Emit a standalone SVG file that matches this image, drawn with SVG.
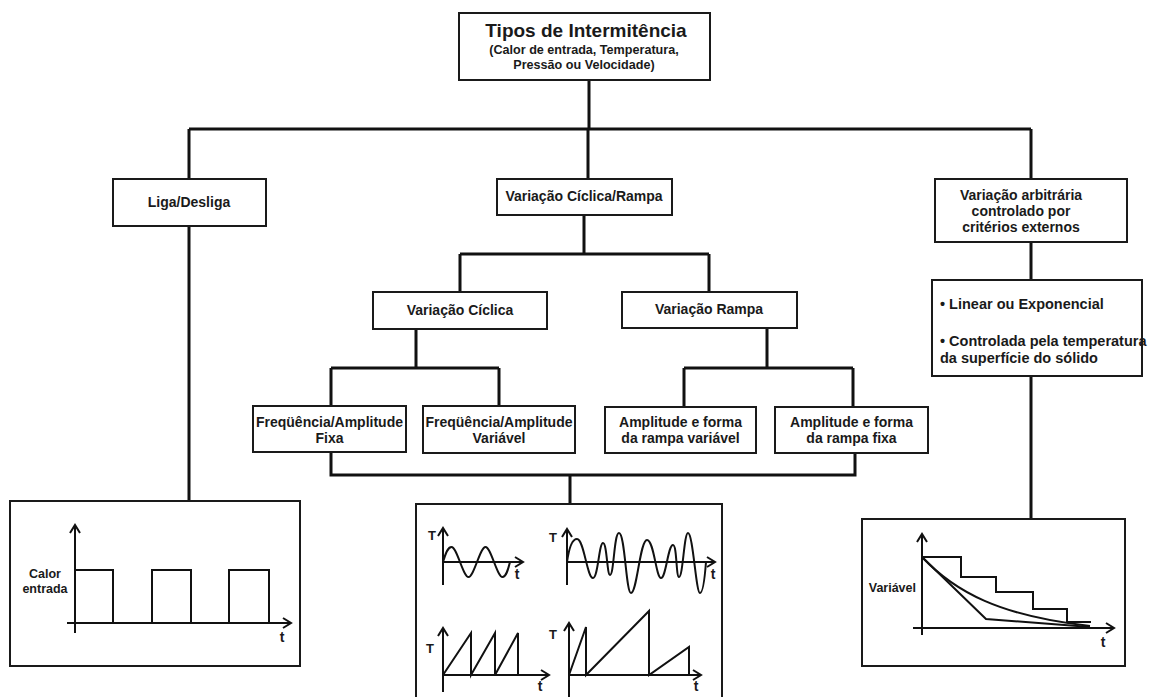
<svg xmlns="http://www.w3.org/2000/svg" width="1154" height="697" viewBox="0 0 1154 697">
<style>
  .box { fill: #fff; stroke: #1a1a1a; stroke-width: 2; }
  .conn { fill: none; stroke: #111; stroke-width: 3; }
  .t { font-family: "Liberation Sans", Arial, sans-serif; font-weight: bold; fill: #1a1a1a; }
  .c { text-anchor: middle; }
  .ax { fill: none; stroke: #111; stroke-width: 2; marker-end: url(#arr); }
  .cv { fill: none; stroke: #111; stroke-width: 2; stroke-linejoin: miter; }
</style>
<defs>
  <marker id="arr" markerUnits="userSpaceOnUse" markerWidth="14" markerHeight="14" refX="10" refY="6" orient="auto">
    <path d="M2,1 L10,6 L2,11" fill="none" stroke="#111" stroke-width="2"/>
  </marker>
</defs>
<rect width="1154" height="697" fill="#fff"/>

<g id="connectors">
  <path class="conn" d="M589,80 V129 M189,129 H1031 M189,129 V179 M588,129 V179 M1031,129 V179"/>
  <path class="conn" d="M189,226 V501"/>
  <path class="conn" d="M584,215 V254 M460,254 H709 M460,254 V292 M709,254 V292"/>
  <path class="conn" d="M416,329 V368 M331,368 H499 M331,368 V406 M499,368 V406"/>
  <path class="conn" d="M767,328 V368 M684,368 H853 M684,368 V407 M853,368 V407"/>
  <path class="conn" d="M331,452 V475 H855 V453 M570,475 V504"/>
  <path class="conn" d="M1031,242 V280 M1031,376 V519"/>
</g>

<g id="title">
  <rect class="box" x="459" y="13" width="251" height="67"/>
  <text class="t c" x="586" y="37" font-size="19">Tipos de Intermitência</text>
  <text class="t c" x="584" y="54" font-size="12.6">(Calor de entrada, Temperatura,</text>
  <text class="t c" x="584" y="69" font-size="12.6">Pressão ou Velocidade)</text>
</g>

<g id="liga">
  <rect class="box" x="113" y="179" width="153" height="47"/>
  <text class="t c" x="189" y="207" font-size="14">Liga/Desliga</text>
</g>

<g id="ciclica-rampa">
  <rect class="box" x="497" y="179" width="175" height="36"/>
  <text class="t c" x="584" y="201" font-size="14">Variação Cíclica/Rampa</text>
</g>

<g id="arbitraria">
  <rect class="box" x="935" y="179" width="192" height="63"/>
  <text class="t c" x="1021" y="200" font-size="14">Variação arbitrária</text>
  <text class="t c" x="1021" y="216" font-size="14">controlado por</text>
  <text class="t c" x="1021" y="232" font-size="14">critérios externos</text>
</g>

<g id="ciclica">
  <rect class="box" x="373" y="292" width="174" height="37"/>
  <text class="t c" x="460" y="315" font-size="14">Variação Cíclica</text>
</g>

<g id="rampa">
  <rect class="box" x="622" y="292" width="175" height="36"/>
  <text class="t c" x="709" y="314" font-size="14">Variação Rampa</text>
</g>

<g id="freq-fixa">
  <rect class="box" x="253" y="406" width="153" height="46"/>
  <text class="t c" x="329.5" y="427" font-size="14">Freqüência/Amplitude</text>
  <text class="t c" x="329.5" y="443" font-size="14">Fixa</text>
</g>

<g id="freq-variavel">
  <rect class="box" x="423" y="406" width="152" height="47"/>
  <text class="t c" x="499" y="427" font-size="14">Freqüência/Amplitude</text>
  <text class="t c" x="499" y="443" font-size="14">Variável</text>
</g>

<g id="amp-variavel">
  <rect class="box" x="605" y="407" width="151" height="46"/>
  <text class="t c" x="680.5" y="427" font-size="14">Amplitude e forma</text>
  <text class="t c" x="680.5" y="443" font-size="14">da rampa variável</text>
</g>

<g id="amp-fixa">
  <rect class="box" x="775" y="407" width="153" height="46"/>
  <text class="t c" x="851.5" y="427" font-size="14">Amplitude e forma</text>
  <text class="t c" x="851.5" y="443" font-size="14">da rampa fixa</text>
</g>

<g id="criterios">
  <rect class="box" x="932" y="280" width="210" height="96"/>
  <text class="t" x="940" y="309" font-size="14.5">• Linear ou Exponencial</text>
  <text class="t" x="940" y="346" font-size="14.5">• Controlada pela temperatura</text>
  <text class="t" x="940" y="363" font-size="14.5">da superfície do sólido</text>
</g>

<g id="grafico-liga">
  <rect class="box" x="10" y="501" width="290" height="165"/>
  <path class="ax" d="M75,633 V525"/>
  <path class="ax" d="M67,623 H291"/>
  <path class="cv" d="M75,570 H113 V623 M152,623 V570 H191 V623 M229,623 V570 H269 V623"/>
  <text class="t c" x="45" y="578" font-size="12.5">Calor</text>
  <text class="t c" x="45" y="593" font-size="12.5">entrada</text>
  <text class="t c" x="282" y="642" font-size="14">t</text>
</g>

<g id="grafico-ciclico">
  <rect class="box" x="416" y="504" width="306" height="200"/>
  <path class="ax" d="M443,585 V528"/>
  <path class="ax" d="M443,562 H523"/>
  <path class="cv" d="M443,562 C446,552 448,547 451.5,547 C457,547 463,577 468.5,577 C474,577 480,547 485.5,547 C491,547 497,577 502.5,577 C506,577 508,570 510,562"/>
  <text class="t c" x="432" y="540" font-size="13">T</text>
  <text class="t c" x="517" y="579" font-size="14">t</text>
  <path class="ax" d="M567,585 V529"/>
  <path class="ax" d="M567,562 H715"/>
  <path class="cv" d="M567,562 C569,548 572,539 577,539 C584,539 587,578 593,578 C598,578 599,543 603,543 C607,543 607,575 610,575 C614,575 614,533 619,533 C625,533 626,593 631,593 C637,593 640,540 647,540 C654,540 656,578 661,578 C666,578 668,545 673,545 C677,545 676,577 679,577 C683,577 684,533 688,533 C693,533 696,593 700,593 C703,593 705,575 706,562"/>
  <text class="t c" x="553" y="542" font-size="13">T</text>
  <text class="t c" x="713" y="579" font-size="14">t</text>
  <path class="ax" d="M443,692 V628"/>
  <path class="ax" d="M443,675 H549"/>
  <path class="cv" d="M443,675 L471,633 V675 L495,633 V675 L518,633 V675"/>
  <text class="t c" x="430" y="653" font-size="13">T</text>
  <text class="t c" x="540" y="691" font-size="14">t</text>
  <path class="ax" d="M569,700 V623"/>
  <path class="ax" d="M569,675 H701"/>
  <path class="cv" d="M569,675 L586,627 V675 L649,611 V675 L689,647 V675"/>
  <text class="t c" x="553" y="639" font-size="13">T</text>
  <text class="t c" x="696" y="691" font-size="14">t</text>
</g>

<g id="grafico-arbitrario">
  <rect class="box" x="862" y="519" width="263" height="147"/>
  <path class="ax" d="M922,635 V534"/>
  <path class="ax" d="M913,628 H1114"/>
  <path class="cv" d="M922,557 H961 V577 H996 V592 H1033 V609 H1067 V622 H1091"/>
  <path class="cv" d="M922,557 L986,619 L1090,627"/>
  <path class="cv" d="M922,557 C955,592 1000,616 1090,626"/>
  <text class="t" x="916" y="592" font-size="12.5" text-anchor="end">Variável</text>
  <text class="t c" x="1103" y="647" font-size="14">t</text>
</g>
</svg>
